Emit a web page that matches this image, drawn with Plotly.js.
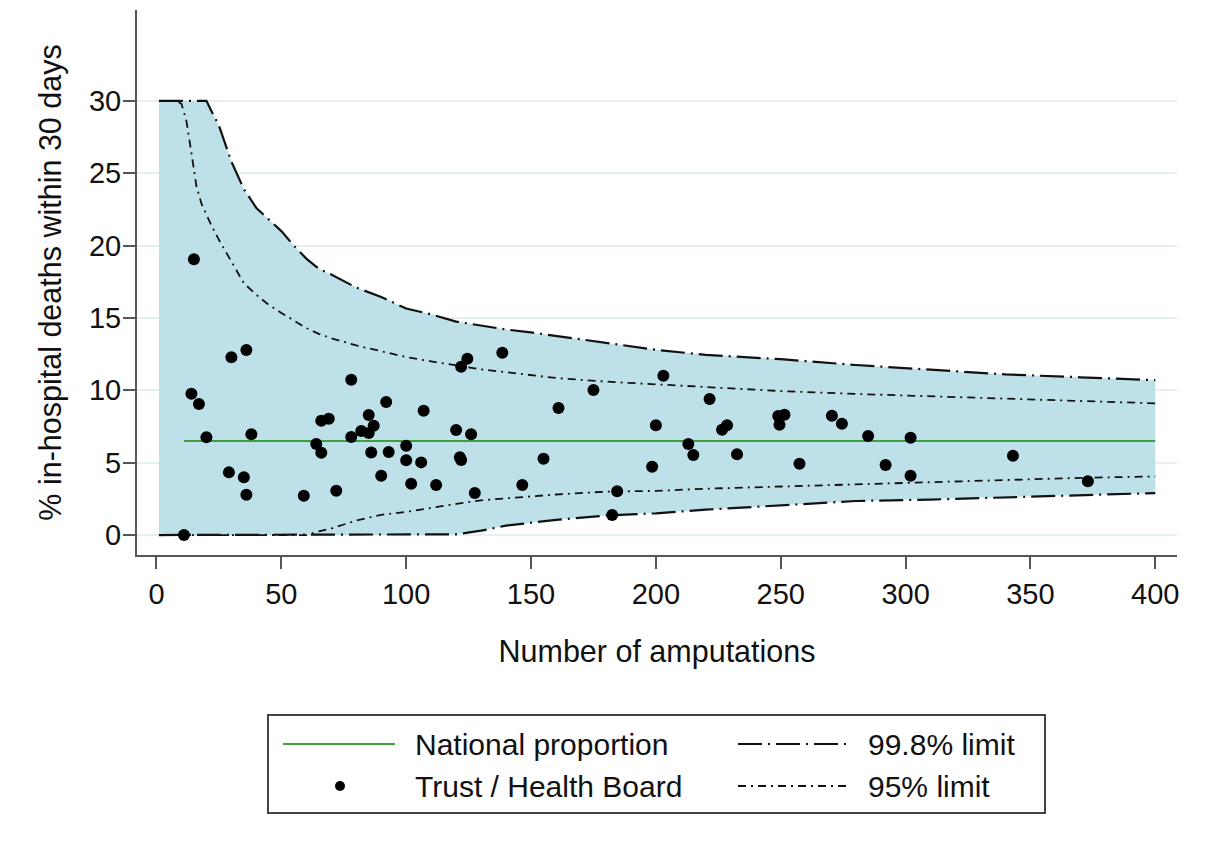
<!DOCTYPE html>
<html>
<head>
<meta charset="utf-8">
<script src="https://cdn.plot.ly/plotly-3.0.1.min.js"></script>
<style>
  html, body { margin: 0; padding: 0; background: #ffffff; }
  #chart { width: 1207px; height: 847px; }
</style>
</head>
<body>
<div id="chart"></div>
<script>
// ---- Data ----
const trustAmputations = [15, 11, 14, 17, 20, 30, 36, 38, 29, 35, 36, 59, 72, 64, 66, 66, 69, 78, 78, 82, 85, 87, 85, 86, 92, 93, 90, 100, 100, 106, 102, 107, 112, 120, 126, 121.5, 122, 124.5, 122, 127.5, 138.5, 146.5, 155, 161, 175, 184.5, 182.5, 203, 200, 198.5, 213, 215, 221.5, 226.5, 228.5, 232.5, 249.5, 251.5, 249, 257.5, 270.5, 274.5, 285, 292, 302, 302, 343, 373];
const trustDeathsPct = [19.05, 0, 9.77, 9.05, 6.75, 12.28, 12.78, 6.96, 4.33, 4.0, 2.78, 2.72, 3.06, 6.29, 5.69, 7.9, 8.04, 10.73, 6.77, 7.19, 8.29, 7.55, 7.05, 5.71, 9.19, 5.73, 4.1, 6.17, 5.16, 5.02, 3.55, 8.59, 3.46, 7.26, 6.96, 5.37, 5.18, 12.18, 11.63, 2.9, 12.6, 3.46, 5.27, 8.78, 10.02, 3.02, 1.38, 11.01, 7.58, 4.72, 6.29, 5.53, 9.4, 7.28, 7.58, 5.58, 7.62, 8.31, 8.22, 4.93, 8.24, 7.69, 6.84, 4.84, 6.73, 4.1, 5.48, 3.71];

const nationalProportion = 6.5;
const nationalStart = 11;
const nationalEnd = 400;

const limitN      = [1, 5, 8, 10, 12, 14, 16, 18, 20, 22, 25, 30, 35, 40, 45, 50, 55, 60, 65, 70, 80, 90, 100, 110, 120, 130, 140, 150, 160, 180, 200, 220, 250, 280, 310, 340, 370, 400];
const upper998    = [30, 30, 30, 30, 30, 30, 30, 30, 30, 29.3, 28.3, 25.8, 23.9, 22.6, 21.8, 21.0, 20.0, 19.1, 18.4, 18.0, 17.1, 16.45, 15.65, 15.25, 14.75, 14.45, 14.2, 14.0, 13.75, 13.25, 12.8, 12.45, 12.15, 11.75, 11.45, 11.1, 10.9, 10.7];
const upper95     = [30, 30, 30, 29.8, 28.6, 26.4, 24.1, 22.9, 22.1, 21.4, 20.4, 18.85, 17.4, 16.6, 15.9, 15.35, 14.8, 14.3, 13.9, 13.6, 13.1, 12.7, 12.3, 12.0, 11.7, 11.45, 11.25, 11.05, 10.85, 10.6, 10.4, 10.2, 9.95, 9.75, 9.6, 9.45, 9.3, 9.1];
const lower95     = [0, 0, 0, 0, 0, 0, 0, 0, 0, 0, 0, 0, 0, 0, 0, 0, 0, 0, 0.25, 0.45, 1.0, 1.4, 1.6, 1.9, 2.15, 2.4, 2.55, 2.7, 2.8, 3.0, 3.05, 3.2, 3.35, 3.55, 3.7, 3.82, 3.95, 4.05];
const lower998    = [0, 0, 0, 0, 0, 0, 0, 0, 0, 0, 0, 0, 0, 0, 0, 0, 0, 0, 0, 0, 0, 0, 0, 0, 0.05, 0.3, 0.65, 0.85, 1.05, 1.35, 1.5, 1.75, 2.05, 2.35, 2.45, 2.6, 2.75, 2.9];

const xTicks = [0, 50, 100, 150, 200, 250, 300, 350, 400];
const yTicks = [0, 5, 10, 15, 20, 25, 30];

const legendLabels = ["National proportion", "Trust / Health Board", "99.8% limit", "95% limit"];

// ---- Styles ----
const FONT = "Liberation Sans, Arial, sans-serif";
const bandColor = "rgb(189,224,233)";
const greenColor = "rgb(60,160,60)";
const dash998 = "24px,6px,2px,6px";
const dash95 = "8px,5px,2px,5px";

const traces = [
  {
    x: limitN.concat(limitN.slice().reverse()),
    y: upper998.concat(lower998.slice().reverse()),
    type: "scatter", mode: "lines", fill: "toself",
    fillcolor: bandColor, line: {width: 0, color: bandColor},
    hoverinfo: "skip", showlegend: false
  },
  { x: limitN, y: upper998, type: "scatter", mode: "lines",
    line: {color: "#111", width: 2.2, dash: dash998}, showlegend: false, name: "99.8% limit" },
  { x: limitN, y: lower998, type: "scatter", mode: "lines",
    line: {color: "#111", width: 2.2, dash: dash998}, showlegend: false, name: "99.8% limit" },
  { x: limitN, y: upper95, type: "scatter", mode: "lines",
    line: {color: "#111", width: 1.8, dash: dash95}, showlegend: false, name: "95% limit" },
  { x: limitN, y: lower95, type: "scatter", mode: "lines",
    line: {color: "#111", width: 1.8, dash: dash95}, showlegend: false, name: "95% limit" },
  { x: [nationalStart, nationalEnd], y: [nationalProportion, nationalProportion],
    type: "scatter", mode: "lines", line: {color: greenColor, width: 2},
    showlegend: false, name: "National proportion" },
  { x: trustAmputations, y: trustDeathsPct, type: "scatter", mode: "markers",
    marker: {color: "#000", size: 12}, showlegend: false, name: "Trust / Health Board" }
];

// plot area in pixels
const L = 137, R = 30, T = 10, B = 292, W = 1207, H = 847;
const pw = W - L - R, ph = H - T - B;
const px = v => (v - L) / pw;
const py = v => (H - B - v) / ph;

const shapes = [
  { type: "rect", xref: "paper", yref: "paper", x0: px(268), x1: px(1045), y0: py(813), y1: py(715),
    line: {color: "#444", width: 2}, fillcolor: "rgba(0,0,0,0)" },
  { type: "line", xref: "paper", yref: "paper", x0: px(283), x1: px(395), y0: py(744), y1: py(744),
    line: {color: greenColor, width: 2} },
  { type: "circle", xref: "paper", yref: "paper", xsizemode: "pixel", ysizemode: "pixel",
    xanchor: px(340), yanchor: py(786), x0: -5, x1: 5, y0: -5, y1: 5,
    fillcolor: "#000", line: {color: "#000", width: 0} },
  { type: "line", xref: "paper", yref: "paper", x0: px(738), x1: px(850), y0: py(744), y1: py(744),
    line: {color: "#111", width: 2.2, dash: dash998} },
  { type: "line", xref: "paper", yref: "paper", x0: px(738), x1: px(850), y0: py(786), y1: py(786),
    line: {color: "#111", width: 1.8, dash: dash95} }
];

const annFont = {family: FONT, size: 30, color: "#111"};
const annotations = [
  { text: legendLabels[0], x: px(413), y: py(744) },
  { text: legendLabels[1], x: px(413), y: py(786) },
  { text: legendLabels[2], x: px(866), y: py(744) },
  { text: legendLabels[3], x: px(866), y: py(786) }
].map(a => Object.assign(a, {xref: "paper", yref: "paper", xanchor: "left", yanchor: "middle",
  showarrow: false, font: annFont}));

const layout = {
  width: W, height: H,
  margin: {l: L, r: R, t: T, b: B, pad: 0},
  paper_bgcolor: "#fff", plot_bgcolor: "#fff",
  font: {family: FONT, size: 29, color: "#111"},
  showlegend: false,
  xaxis: {
    range: [-7.8, 408.7], tickvals: xTicks, ticktext: xTicks.map(String),
    showgrid: false, zeroline: false, showline: true, linecolor: "#555", linewidth: 2,
    ticks: "outside", ticklen: 12, tickwidth: 2, tickcolor: "#555",
    tickfont: {family: FONT, size: 29, color: "#111"},
    title: {text: "Number of amputations", font: {family: FONT, size: 30.5, color: "#111"}, standoff: 32},
    automargin: false
  },
  yaxis: {
    range: [-1.38, 36.28], tickvals: yTicks, ticktext: yTicks.map(String),
    showgrid: true, gridcolor: "#e6f0f2", gridwidth: 2, zeroline: false,
    showline: true, linecolor: "#555", linewidth: 2,
    ticks: "outside", ticklen: 12, tickwidth: 2, tickcolor: "#555",
    tickfont: {family: FONT, size: 29, color: "#111"},
    ticklabelstandoff: -4,
    title: {text: "% in-hospital deaths within 30 days", font: {family: FONT, size: 30.5, color: "#111"}, standoff: 18},
    automargin: false
  },
  shapes: shapes,
  annotations: annotations
};

Plotly.newPlot("chart", traces, layout, {staticPlot: true, displayModeBar: false});
</script>
</body>
</html>
